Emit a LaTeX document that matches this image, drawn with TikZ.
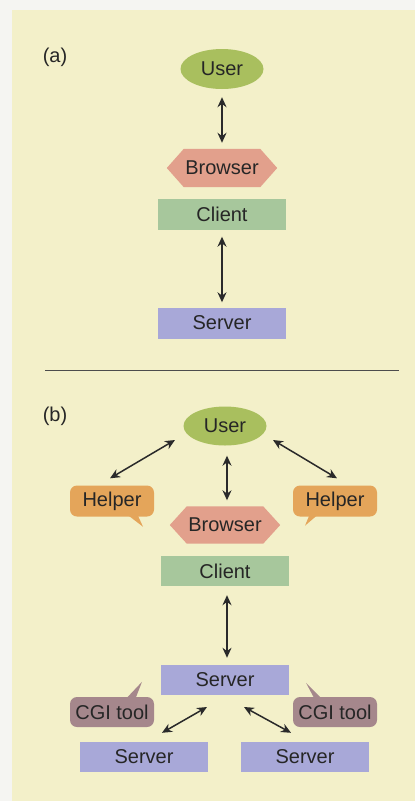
\documentclass[tikz,border=0pt]{standalone}
\usepackage{fontspec}
\setmainfont{Liberation Sans}
\usetikzlibrary{shapes.geometric,arrows.meta,backgrounds,calc}
\definecolor{bgy}{HTML}{F3F0C9}
\definecolor{pagew}{HTML}{F5F5F2}
\definecolor{usr}{HTML}{A9BF5E}
\definecolor{brw}{HTML}{E2A08C}
\definecolor{cli}{HTML}{A7C79C}
\definecolor{srv}{HTML}{A8A8D8}
\definecolor{hlp}{HTML}{E4A55A}
\definecolor{cgi}{HTML}{A5878C}
\definecolor{tx}{HTML}{262626}
\definecolor{ar}{HTML}{2A2A2A}
\begin{document}
\begin{tikzpicture}[x=1pt,y=-1pt,
  font=\fontsize{20}{22}\selectfont,
  ell/.style={ellipse, fill=usr, minimum width=83, minimum height=40, inner sep=0, text=tx},
  box/.style={rectangle, minimum width=128, minimum height=31, inner sep=0, text=tx},
  hexa/.style={rectangle, minimum width=110, minimum height=38, inner sep=0, text=tx},
  bubble/.style={rectangle, rounded corners=7, minimum width=84, minimum height=31, inner sep=0, text=tx},
  lbl/.style={inner sep=0, text=tx},
  arr/.style={draw=ar, line width=1.5pt, {Stealth[length=10pt,width=9pt]}-{Stealth[length=10pt,width=9pt]}},
  sepline/.style={draw=black!70, line width=1pt}]
\useasboundingbox (0,0) rectangle (415,801);
\begin{scope}[on background layer]
  \fill[pagew] (0,0) rectangle (415,801);
  \fill[bgy] (12,10) rectangle (415,801);
\end{scope}

% ---------- panel (a) ----------
\node[lbl] (la) at (55,57) {(a)};
\node[ell] (ua) at (222,69) {User};
\node[hexa] (ba) at (222,168) {Browser};
\node[box, fill=cli] (ca) at (222,214) {Client};
\node[box, fill=srv] (sa) at (222,323) {Server};
\draw[arr, shorten <=8pt, shorten >=6pt] (ua.south) -- (ba.north);
\draw[arr, shorten <=7pt, shorten >=5pt] (ca.south) -- (sa.north);

% separator
\coordinate (s1) at (45,370);
\coordinate (s2) at (399,370);
\draw[sepline] (s1) -- (s2);

% ---------- panel (b) ----------
\node[lbl] (lb) at (55,416) {(b)};
\node[ell, minimum height=39] (ub) at (225,426) {User};
\node[hexa, minimum height=37] (bb) at (225,525) {Browser};
\node[box, fill=cli, minimum height=30] (cb) at (225,571) {Client};
\node[box, fill=srv, minimum height=30] (sb) at (225,680) {Server};
\node[bubble, fill=hlp] (hl) at (112,501) {Helper};
\node[bubble, fill=hlp] (hr) at (335,501) {Helper};
\node[bubble, fill=cgi, minimum height=30] (gl) at (112,712) {CGI tool};
\node[bubble, fill=cgi, minimum height=30] (gr) at (335,712) {CGI tool};
\node[box, fill=srv, minimum height=30] (sl) at (144,757) {Server};
\node[box, fill=srv, minimum height=30] (sr) at (305,757) {Server};

% hexagon backgrounds
\begin{scope}[on background layer]
  \foreach \n in {ba,bb}{
    \fill[brw] (\n.west) -- ($(\n.north west)+(17,0)$) -- ($(\n.north east)+(-17,0)$)
      -- (\n.east) -- ($(\n.south east)+(-17,0)$) -- ($(\n.south west)+(17,0)$) -- cycle;
  }
\end{scope}

% bubble tails
\fill[hlp] ($(hl.south)+(14,-3)$) -- ($(hl.south)+(31,10)$) -- ($(hl.south)+(25,-3)$) -- cycle;
\fill[hlp] ($(hr.south)+(-25,-3)$) -- ($(hr.south)+(-30,9)$) -- ($(hr.south)+(-16,-3)$) -- cycle;
\fill[cgi] ($(gl.north)+(13,3)$) -- ($(gl.north)+(30,-15)$) -- ($(gl.north)+(23,3)$) -- cycle;
\fill[cgi] ($(gr.north)+(-20,3)$) -- ($(gr.north)+(-29,-14)$) -- ($(gr.north)+(-12,3)$) -- cycle;

% arrows (b)
\draw[arr, shorten <=10pt, shorten >=6pt] ($(ub.south)+(2,0)$) -- ($(bb.north)+(2,0)$);
\draw[arr] ($(ub.center)+(-50,14)$) -- ($(hl.north)+(-2,-7)$);
\draw[arr] ($(ub.center)+(48,14)$) -- ($(hr.north)+(2,-7)$);
\draw[arr, shorten <=9pt, shorten >=7pt] ($(cb.south)+(2,0)$) -- ($(sb.north)+(2,0)$);
\draw[arr] ($(sb.center)+(-18,27)$) -- ($(sl.north)+(18,-9)$);
\draw[arr] ($(sb.center)+(19,27)$) -- ($(sr.north)+(-14,-9)$);
\end{tikzpicture}
\end{document}
